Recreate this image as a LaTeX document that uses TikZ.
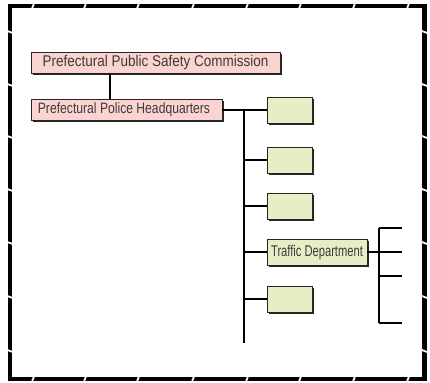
\documentclass[tikz,border=0pt]{standalone}
\usepackage{fontspec}
\setmainfont{Liberation Sans}
\usepackage{xcolor}
\usetikzlibrary{positioning, calc, shadows}

\definecolor{pinkfill}{RGB}{251,212,210}
\definecolor{greenfill}{RGB}{231,238,198}
\definecolor{textgray}{RGB}{58,58,58}

\newcommand{\squeeze}[2]{\scalebox{#1}[1]{#2}}

\begin{document}
\begin{tikzpicture}[
    x=1pt, y=-1pt,
    orgbox/.style={rectangle, draw=black!85, line width=0.8pt, inner sep=0pt,
      text=textgray, font=\fontsize{15.5}{17}\selectfont,
      drop shadow={shadow xshift=1.6pt, shadow yshift=-1.6pt, fill=black!85, opacity=1}},
    pinkbox/.style={orgbox, fill=pinkfill, minimum height=21pt},
    greenbox/.style={orgbox, fill=greenfill, minimum height=26pt, minimum width=45pt},
    link/.style={line width=1.3pt},
    frame/.style={line width=4.8pt, line join=miter},
    gap/.style={white, line width=1.8pt}
  ]
    \useasboundingbox (0,0) rectangle (430,382);

    % frame with small breaks
    \draw[frame] (10,6) rectangle (424.5,379);
    \foreach \x in {33,85,138,193,247,300,354,408} {
      \draw[gap] (\x-1.5,10) -- (\x+1.5,2);
      \draw[gap] (\x-1.5,383) -- (\x+1.5,375);
    }
    \foreach \y in {32,85,137,190,243,297,351} {
      \draw[gap] (6,\y-1.5) -- (14,\y+1.5);
      \draw[gap] (420.5,\y-1.5) -- (428.5,\y+1.5);
    }

    % boxes
    \node[pinkbox, minimum width=249pt] (pspc) at (155.5,62.5) {\squeeze{0.87}{Prefectural Public Safety Commission}};
    \node[pinkbox, minimum width=191pt, font=\fontsize{15}{17}\selectfont] (pph) at (126.5,110) {\squeeze{0.81}{Prefectural Police Headquarters}\hspace*{5pt}};
    \node[greenbox] (div1) at (289.5,110) {};
    \node[greenbox] (div2) at (289.5,160) {};
    \node[greenbox] (div3) at (289.5,206) {};
    \node[greenbox, minimum width=100pt, font=\fontsize{15.5}{17}\selectfont] (div4) at (317,252) {\squeeze{0.72}{Traffic Department}};
    \node[greenbox] (div5) at (289.5,299) {};

    % connectors
    \draw[link] (pspc.south -| 110,0) -- (pph.north -| 110,0);
    \draw[link] (pph.east) -- (div1.west);
    \coordinate (trunktop) at (244,110);
    \coordinate (trunkend) at (244,343);
    \draw[link] (trunktop) -- (trunkend);
    \foreach \i in {2,...,5}
      \draw[link] (trunktop |- div\i.west) -- (div\i.west);

    % traffic sub-branches
    \coordinate (subtop) at (379,228);
    \coordinate (subend) at (379,323);
    \draw[link] (subtop) -- (subend);
    \draw[link] (div4.east) -- (402,252);
    \foreach \y in {228,276,323}
      \draw[link] (379,\y) -- (402,\y);
\end{tikzpicture}
\end{document}
